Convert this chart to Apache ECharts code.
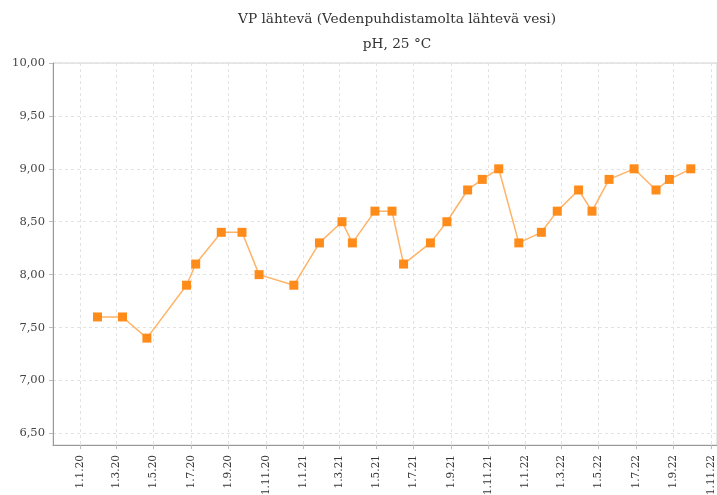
<!DOCTYPE html>
<html>
<head>
<meta charset="utf-8">
<script src="https://cdn.jsdelivr.net/npm/echarts@6/dist/echarts.min.js"></script>
<style>
  html, body { margin: 0; padding: 0; background: #fff; }
  #chart { width: 717px; height: 495px; }
</style>
</head>
<body>
<div id="chart"></div>
<script>
// sample dates and pH values
var sampleDates = [
  '2020-01-30', '2020-03-11', '2020-04-20', '2020-06-24', '2020-07-09',
  '2020-08-20', '2020-09-23', '2020-10-21', '2020-12-17', '2021-01-28',
  '2021-03-06', '2021-03-23', '2021-04-29', '2021-05-27', '2021-06-15',
  '2021-07-29', '2021-08-25', '2021-09-28', '2021-10-22', '2021-11-18',
  '2021-12-21', '2022-01-27', '2022-02-22', '2022-03-29', '2022-04-20',
  '2022-05-18', '2022-06-28', '2022-08-03', '2022-08-25', '2022-09-29'
];
var phValues = [
  7.6, 7.6, 7.4, 7.9, 8.1,
  8.4, 8.4, 8.0, 7.9, 8.3,
  8.5, 8.3, 8.6, 8.6, 8.1,
  8.3, 8.5, 8.8, 8.9, 9.0,
  8.3, 8.4, 8.6, 8.8, 8.6,
  8.9, 9.0, 8.8, 8.9, 9.0
];
var xTickDates = [
  '2020-01-01', '2020-03-01', '2020-05-01', '2020-07-01', '2020-09-01', '2020-11-01',
  '2021-01-01', '2021-03-01', '2021-05-01', '2021-07-01', '2021-09-01', '2021-11-01',
  '2022-01-01', '2022-03-01', '2022-05-01', '2022-07-01', '2022-09-01', '2022-11-01'
];
var yTicks = [6.5, 7.0, 7.5, 8.0, 8.5, 9.0, 9.5, 10.0];

function toTime(s) {
  var p = s.split('-');
  return Date.UTC(+p[0], +p[1] - 1, +p[2]);
}

var seriesData = sampleDates.map(function (d, i) {
  return [toTime(d), phValues[i]];
});
var xTicks = xTickDates.map(toTime);

var font = 'DejaVu Serif';
var myChart = echarts.init(document.getElementById('chart'));

// dates are kept as timestamps on a value axis so the ticks can be placed by hand
var option = {
  animation: false,
  backgroundColor: '#fff',
  title: [
    {
      text: 'VP lähtevä (Vedenpuhdistamolta lähtevä vesi)',
      left: 392,
      top: 7,
      textAlign: 'center',
      textStyle: { fontFamily: font, fontSize: 13.7, fontWeight: 'normal', color: '#333' }
    },
    {
      text: 'pH, 25 °C',
      left: 392,
      top: 32,
      textAlign: 'center',
      textStyle: { fontFamily: font, fontSize: 13.7, fontWeight: 'normal', color: '#333' }
    }
  ],
  grid: {
    left: 53,
    right: 0,
    top: 63,
    bottom: 50,
    outerBoundsMode: 'none',
    show: true,
    borderColor: '#d0d0d0',
    borderWidth: 1
  },
  xAxis: {
    type: 'value',
    min: toTime('2019-11-18'),
    max: toTime('2022-11-11'),
    axisLine: { lineStyle: { color: '#999' } },
    axisTick: { show: true, length: 4, lineStyle: { color: '#bbb' }, customValues: xTicks },
    axisLabel: {
      customValues: xTicks,
      rotate: 90,
      fontFamily: font,
      fontSize: 10.5,
      color: '#333',
      margin: 10,
      formatter: function (v) {
        var d = new Date(v);
        return d.getUTCDate() + '.' + (d.getUTCMonth() + 1) + '.' + String(d.getUTCFullYear()).slice(2);
      }
    },
    splitLine: { show: true, lineStyle: { color: '#e2e2e2', type: [3, 3] } }
  },
  yAxis: {
    type: 'value',
    min: 6.39,
    max: 10,
    axisLine: { show: true, lineStyle: { color: '#999' } },
    axisTick: { show: true, length: 4, lineStyle: { color: '#bbb' }, customValues: yTicks },
    axisLabel: {
      customValues: yTicks,
      fontFamily: font,
      fontSize: 11.5,
      color: '#444',
      margin: 8,
      formatter: function (v) {
        return v.toFixed(2).replace('.', ',');
      }
    },
    splitLine: { show: true, lineStyle: { color: '#e2e2e2', type: [3, 3] } }
  },
  series: [
    {
      name: 'pH',
      type: 'line',
      data: seriesData,
      symbol: 'rect',
      symbolSize: 9,
      lineStyle: { color: '#ffb366', width: 1.5 },
      itemStyle: { color: '#ff8c1a' }
    }
  ]
};
myChart.setOption(option);
</script>
</body>
</html>
